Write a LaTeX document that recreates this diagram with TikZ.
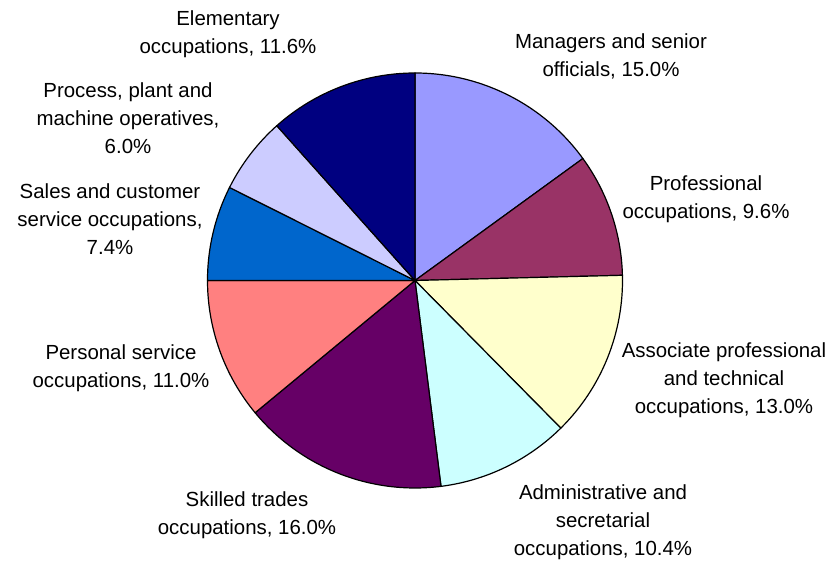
\documentclass[tikz,border=0pt]{standalone}
\usepackage{fontspec}
\setmainfont{Liberation Sans}
\definecolor{cMan}{HTML}{9999FF}
\definecolor{cPro}{HTML}{993366}
\definecolor{cAss}{HTML}{FFFFCC}
\definecolor{cAdm}{HTML}{CCFFFF}
\definecolor{cSki}{HTML}{660066}
\definecolor{cPer}{HTML}{FF8080}
\definecolor{cSal}{HTML}{0066CC}
\definecolor{cPrc}{HTML}{CCCCFF}
\definecolor{cEle}{HTML}{000080}
\begin{document}
\begin{tikzpicture}[x=1bp,y=1bp,
  slice/.style={draw=black, line width=1.2bp, line join=round},
  lbl/.style={anchor=north, inner sep=0pt, align=center, text=black,
    font=\fontsize{20.5}{28.5}\selectfont}]
\useasboundingbox (0,0) rectangle (836,561);
\coordinate (c) at (415,280.5);
\def\R{207.5}
\foreach \a/\b/\col in {90/36/cMan, 36/1.44/cPro, 1.44/-45.36/cAss,
  -45.36/-82.8/cAdm, -82.8/-140.4/cSki, -140.4/-180/cPer,
  -180/-206.64/cSal, -206.64/-228.24/cPrc, -228.24/-270/cEle}
  \filldraw[slice, fill=\col] (c) -- ++(\a:\R) arc[start angle=\a, end angle=\b, radius=\R] -- cycle;
\node[lbl] (lEle) at (228,555.95) {\strut Elementary\\\strut occupations, 11.6\%};
\node[lbl] (lPrc) at (128,483.95) {\strut Process, plant and\\\strut machine operatives,\\\strut 6.0\%};
\node[lbl] (lSal) at (110,382.95) {\strut Sales and customer\\\strut service occupations,\\\strut 7.4\%};
\node[lbl] (lMan) at (611,532.95) {\strut Managers and senior\\\strut officials, 15.0\%};
\node[lbl] (lPro) at (706,390.95) {\strut Professional\\\strut occupations, 9.6\%};
\node[lbl] (lAss) at (724,223.95) {\strut Associate professional\\\strut and technical\\\strut occupations, 13.0\%};
\node[lbl] (lAdm) at (603,81.95) {\strut Administrative and\\\strut secretarial\\\strut occupations, 10.4\%};
\node[lbl] (lPer) at (121,221.95) {\strut Personal service\\\strut occupations, 11.0\%};
\node[lbl] (lSki) at (247,74.95) {\strut Skilled trades\\\strut occupations, 16.0\%};
\end{tikzpicture}
\end{document}
